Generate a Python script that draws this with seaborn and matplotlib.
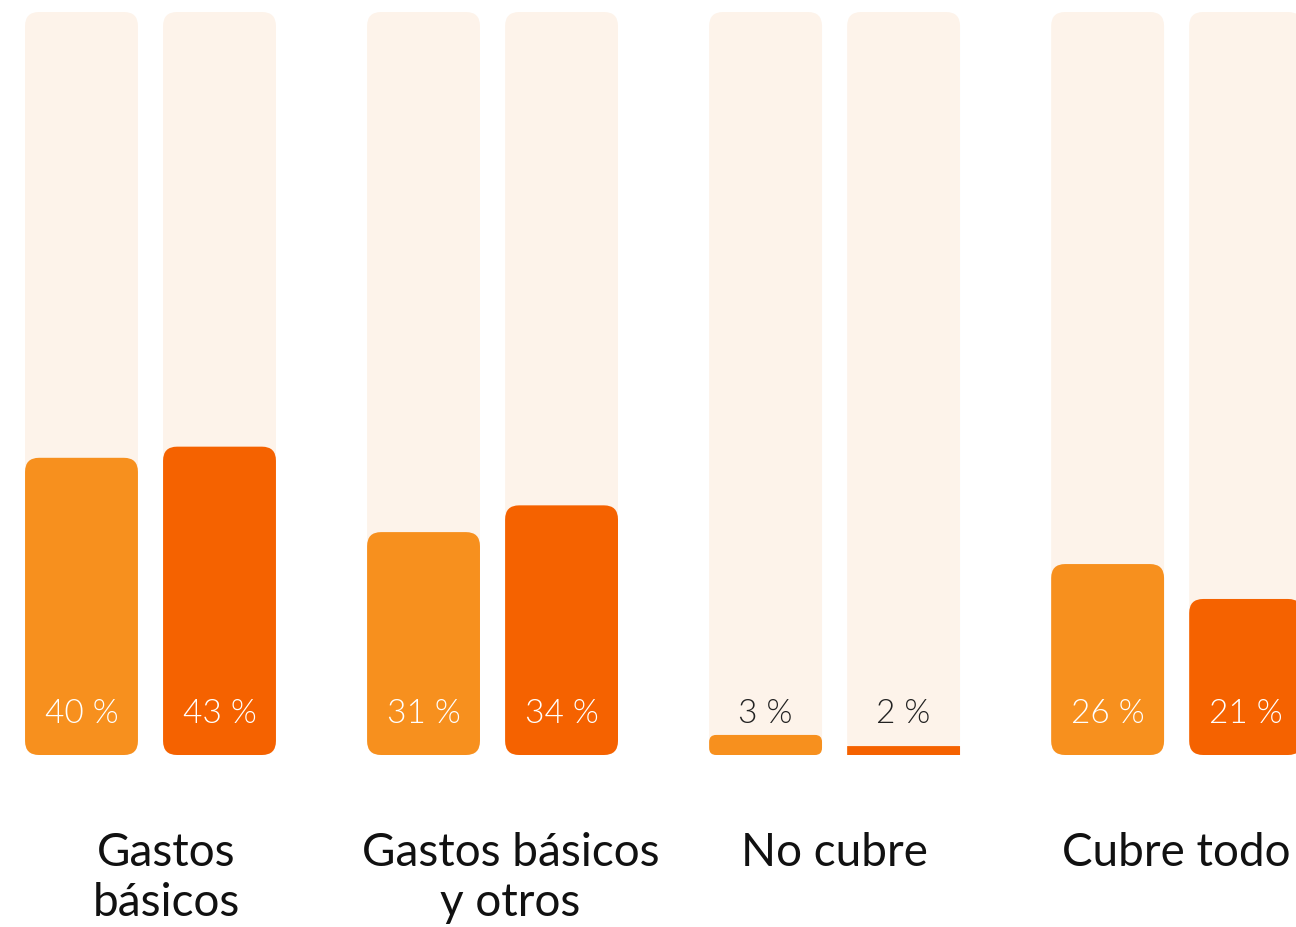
import numpy as np
import pandas as pd
import matplotlib.pyplot as plt
import seaborn as sns
from matplotlib.patches import FancyBboxPatch
from matplotlib.transforms import ScaledTranslation

# --- data ---
categories = ['Gastos\nbásicos', 'Gastos básicos\ny otros', 'No cubre', 'Cubre todo']
series = ['Serie 1', 'Serie 2']
labels_1 = [40, 31, 3, 26]      # printed percentages
labels_2 = [43, 34, 2, 21]
heights_1 = [40.0, 30.0, 2.7, 25.7]   # bar heights as drawn
heights_2 = [41.5, 33.6, 1.2, 21.0]
total = 100

light = '#F7901E'
dark = '#F56200'
cream = '#FDF3EA'

df = pd.DataFrame({
    'cat': categories * 2,
    'serie': [series[0]] * 4 + [series[1]] * 4,
    'value': heights_1 + heights_2,
    'label': labels_1 + labels_2,
    'total': [total] * 8,
})

sns.set_theme(style='white')
plt.rcParams['font.family'] = ['Lato', 'DejaVu Sans']

fig = plt.figure(figsize=(12.96, 9.28), dpi=100)
ax = fig.add_axes([0, 172 / 928, 1, 743 / 928])

# background (100 %) bars, then the values on top
sns.barplot(data=df, x='cat', y='total', hue='serie', palette=[cream, cream],
            width=0.807, gap=0.182, saturation=1, errorbar=None, legend=False, ax=ax)
n_bg = len(ax.patches)
sns.barplot(data=df, x='cat', y='value', hue='serie', palette=[light, dark],
            width=0.807, gap=0.182, saturation=1, errorbar=None, legend=False, ax=ax)

ax.set_xlim(-0.440, 3.349)
ax.set_ylim(0, total)
for s in ax.spines.values():
    s.set_visible(False)
ax.set_yticks([])
ax.set_xlabel('')
ax.set_ylabel('')

# swap rectangles for rounded boxes
fig.canvas.draw()
bbox = ax.get_window_extent()
x_per_px = (ax.get_xlim()[1] - ax.get_xlim()[0]) / bbox.width
y_per_px = (ax.get_ylim()[1] - ax.get_ylim()[0]) / bbox.height
aspect = y_per_px / x_per_px

rects = list(ax.patches)
for i, p in enumerate(rects):
    x, y, w, h = p.get_x(), p.get_y(), p.get_width(), p.get_height()
    fc = p.get_facecolor()
    p.remove()
    h_px = h / y_per_px
    r_px = 14 if h_px > 28 else (7 if h_px > 12 else 0)
    box = FancyBboxPatch((x, y), w, h,
                         boxstyle=f'round,pad=0,rounding_size={r_px * x_per_px}',
                         mutation_aspect=aspect, facecolor=fc, edgecolor='none',
                         zorder=1 if i < n_bg else 2, clip_on=False)
    ax.add_patch(box)

# percentage labels near the bottom of each bar
label_y = 42 * y_per_px
for j, (vals, labs) in enumerate([(heights_1, labels_1), (heights_2, labels_2)]):
    for k in range(len(categories)):
        xc = k + (-0.2018 if j == 0 else 0.2018)
        col = 'white' if vals[k] > 10 else '#222222'
        ax.text(xc, label_y, f'{labs[k]} %', ha='center', va='center',
                fontsize=24, fontweight=300, color=col, zorder=3)

# category labels
ax.set_xticks(range(len(categories)))
ax.set_xticklabels(categories, fontsize=33, color='#111111', linespacing=1.22)
ax.tick_params(axis='x', length=0, pad=55)
shifts = [16, 18, 0, 0]
for lab, dx in zip(ax.get_xticklabels(), shifts):
    lab.set_transform(lab.get_transform() + ScaledTranslation(dx / 100, 0, fig.dpi_scale_trans))

fig.savefig('out.png', dpi=100)
